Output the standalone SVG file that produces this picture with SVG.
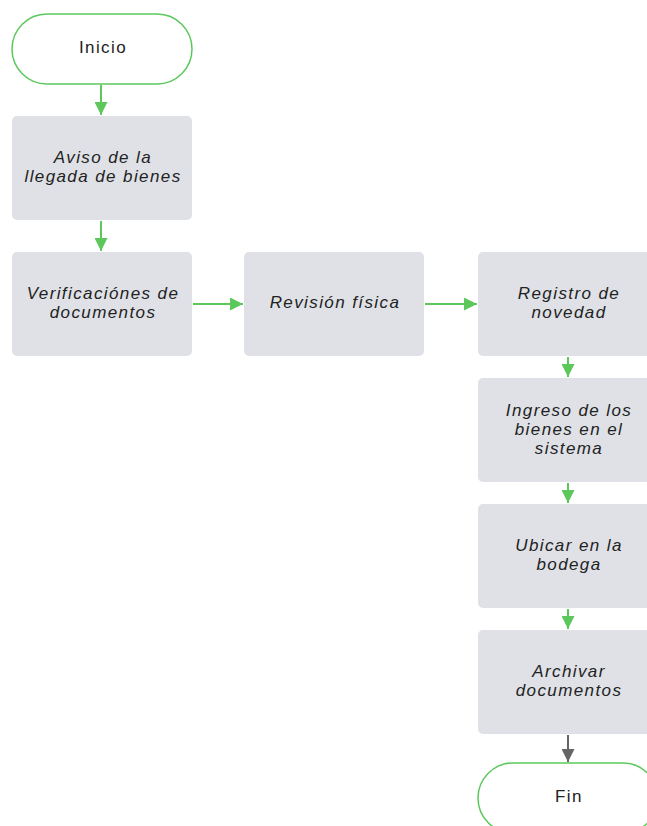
<svg xmlns="http://www.w3.org/2000/svg" width="647" height="826" viewBox="0 0 647 826">
<style>
.term{fill:#fff;stroke:#5cc85c;stroke-width:1.5}
.box{fill:#dfe1e6}
.t{font-family:"Liberation Sans",Arial,sans-serif;font-size:17px;letter-spacing:1.4px;fill:#222;text-anchor:middle}
.i{font-style:italic}
.g{stroke:#5cc85c;stroke-width:2;fill:none}
.d{stroke:#666;stroke-width:2;fill:none}
</style>
<defs>
<marker id="ag" viewBox="0 0 10 10" refX="10" refY="5" markerWidth="6.5" markerHeight="6.5" orient="auto" markerUnits="strokeWidth"><path d="M0,0L10,5L0,10z" fill="#5cc85c"/></marker>
<marker id="ad" viewBox="0 0 10 10" refX="10" refY="5" markerWidth="6.5" markerHeight="6.5" orient="auto" markerUnits="strokeWidth"><path d="M0,0L10,5L0,10z" fill="#666"/></marker>
</defs>
<rect width="647" height="826" fill="#fff"/>
<g id="connectors">
<path class="g" d="M101,85V115" marker-end="url(#ag)"/>
<path class="g" d="M101,221V251" marker-end="url(#ag)"/>
<path class="g" d="M193,304H243" marker-end="url(#ag)"/>
<path class="g" d="M425,304H477" marker-end="url(#ag)"/>
<path class="g" d="M568,357V377" marker-end="url(#ag)"/>
<path class="g" d="M568,483V503" marker-end="url(#ag)"/>
<path class="g" d="M568,609V629" marker-end="url(#ag)"/>
<path class="d" d="M568,735V762" marker-end="url(#ad)"/>
</g>
<g id="inicio"><rect class="term" x="12" y="14" width="180" height="70" rx="35"/><text class="t" x="103" y="53">Inicio</text></g>
<g id="aviso"><rect class="box" x="12" y="116" width="180" height="104" rx="5"/><text class="t i" x="103" y="163">Aviso de la</text><text class="t i" x="103" y="182">llegada de bienes</text></g>
<g id="verificaciones"><rect class="box" x="12" y="252" width="180" height="104" rx="5"/><text class="t i" x="103" y="299">Verificaciónes de</text><text class="t i" x="103" y="318">documentos</text></g>
<g id="revision"><rect class="box" x="244" y="252" width="180" height="104" rx="5"/><text class="t i" x="335" y="308">Revisión física</text></g>
<g id="registro"><rect class="box" x="478" y="252" width="180" height="104" rx="5"/><text class="t i" x="569" y="299">Registro de</text><text class="t i" x="569" y="318">novedad</text></g>
<g id="ingreso"><rect class="box" x="478" y="378" width="180" height="104" rx="5"/><text class="t i" x="569" y="416">Ingreso de los</text><text class="t i" x="569" y="435">bienes en el</text><text class="t i" x="569" y="454">sistema</text></g>
<g id="ubicar"><rect class="box" x="478" y="504" width="180" height="104" rx="5"/><text class="t i" x="569" y="551">Ubicar en la</text><text class="t i" x="569" y="570">bodega</text></g>
<g id="archivar"><rect class="box" x="478" y="630" width="180" height="104" rx="5"/><text class="t i" x="569" y="677">Archivar</text><text class="t i" x="569" y="696">documentos</text></g>
<g id="fin"><rect class="term" x="478" y="763" width="180" height="70" rx="35"/><text class="t" x="569" y="802">Fin</text></g>
</svg>
